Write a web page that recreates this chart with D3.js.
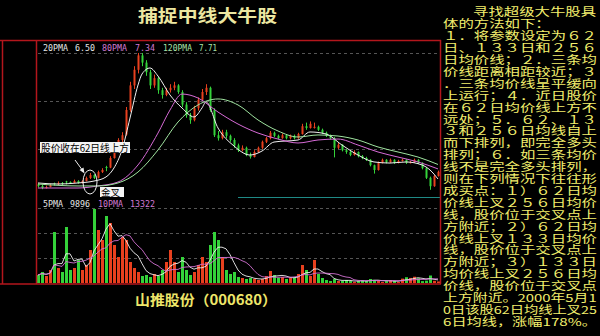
<!DOCTYPE html>
<html>
<head>
<meta charset="utf-8">
<script src="https://cdn.jsdelivr.net/npm/d3@7"></script>
<style>
  html, body { margin: 0; padding: 0; background: #000; }
  svg { display: block; }
</style>
</head>
<body>
<svg id="chart" width="600" height="336"></svg>
<script>
// ---- daily prices (yuan), one entry per trading day ----
const open = [6.05,5.92,5.75,5.83,6.15,6.08,6.17,6.3,6.25,6.17,
  6.33,6.17,6.33,6.58,6.83,6.6,7.08,7.5,7.45,8.25,
  8.9,9.75,10.2,12.25,14.3,15.6,16.8,16.2,15.4,14.3,
  14.9,13.9,13.5,13.9,14.1,14.3,13.75,12.7,11.8,11.4,
  12.4,13.1,13.75,14.1,12.25,10.15,9.9,10.4,10.1,9.75,
  9.3,8.9,9.1,8.5,8.33,8.75,9.1,9.6,9.9,10.35,
  10.1,9.9,10.15,9.9,10.1,9.9,10.25,10.9,10.75,10.75,
  10.85,10.6,10.35,10.1,9.9,9.1,9.35,8.9,8.75,8.5,
  8.75,8.4,8.25,8.1,7.65,7.25,7.85,8.1,7.9,8.1,
  7.85,8.0,8.1,7.85,7.9,8.1,7.85,7.4,6.6,5.9,
  6.75];
const high = [6.15,6.0,5.95,6.1,6.2,6.3,6.25,6.35,6.3,6.45,
  6.4,6.4,6.7,7.0,6.9,7.2,7.4,7.6,8.4,9.1,
  9.9,10.4,12.5,14.6,15.9,17.0,17.0,16.4,15.6,15.2,
  15.0,14.1,14.1,14.4,14.6,14.4,13.9,12.9,12.0,12.6,
  13.3,14.0,14.4,14.2,12.4,10.5,10.6,10.6,10.2,9.9,
  9.45,9.3,9.2,8.7,8.9,9.2,9.7,10.0,10.5,10.45,
  10.2,10.3,10.25,10.2,10.2,10.35,11.1,11.2,11.3,11.2,
  10.95,10.7,10.45,10.2,10.0,9.5,9.4,9.0,8.85,8.9,
  8.8,8.5,8.35,8.15,7.7,7.95,8.2,8.15,8.2,8.15,
  8.1,8.2,8.15,8.0,8.2,8.15,7.9,7.45,6.7,6.85,
  7.2];
const low = [5.8,5.65,5.7,5.8,5.95,6.0,6.0,6.05,6.1,6.15,
  6.1,6.12,6.3,6.5,6.5,6.55,7.0,7.15,7.4,8.2,
  8.8,9.5,10.1,12.1,14.0,15.3,15.9,15.1,14.0,14.1,
  13.6,13.2,13.4,13.7,13.9,13.6,12.5,11.6,11.1,11.3,
  12.2,13.0,13.5,12.1,10.0,9.7,9.8,9.9,9.6,9.1,
  8.75,8.8,8.4,8.2,8.3,8.7,9.0,9.5,9.8,10.0,
  9.8,9.85,9.8,9.8,9.8,9.85,10.2,10.6,10.7,10.7,
  10.5,10.25,10.0,9.8,8.3,9.0,8.8,8.6,8.4,8.45,
  8.3,8.15,8.0,7.55,6.95,7.2,7.8,7.8,7.85,7.75,
  7.8,7.95,7.75,7.8,7.85,7.75,7.3,6.5,5.6,5.85,
  6.7];
const close = [5.92,5.75,5.83,6.0,6.08,6.17,6.08,6.25,6.17,6.33,
  6.17,6.33,6.58,6.83,6.58,7.08,7.25,7.42,8.25,8.9,
  9.75,10.15,12.25,14.3,15.6,16.8,16.2,15.4,14.3,14.9,
  13.9,13.5,13.9,14.1,14.3,13.75,12.7,11.8,11.4,12.4,
  13.1,13.75,14.1,12.25,10.15,9.9,10.4,10.1,9.75,9.3,
  8.9,9.1,8.5,8.33,8.75,9.1,9.6,9.9,10.35,10.1,
  9.9,10.15,9.9,10.1,9.9,10.25,10.9,10.75,11.1,10.85,
  10.6,10.35,10.1,9.9,9.1,9.35,8.9,8.75,8.5,8.75,
  8.4,8.25,8.1,7.65,7.25,7.85,8.1,7.9,8.1,7.85,
  8.0,8.1,7.85,7.9,8.1,7.85,7.4,6.6,5.9,6.75,
  7.1];
// ---- daily volume (lots) ----
const volume = [25600,35200,22400,41600,163200,48000,35200,179200,41600,48000,
  73600,41600,57600,105600,236800,169600,137600,214400,192000,121600,
  83200,147200,137600,67200,48000,35200,22400,25600,19200,28800,
  22400,41600,67200,105600,67200,35200,83200,41600,25600,35200,
  57600,83200,67200,121600,163200,137600,83200,41600,28800,35200,
  19200,16000,12800,16000,12800,9600,12800,22400,38400,25600,
  16000,19200,12800,16000,19200,28800,57600,41600,22400,73600,
  28800,16000,9600,6400,12800,6400,6400,9600,6400,3200,
  6400,9600,6400,12800,9600,6400,3200,6400,9600,6400,
  3200,14000,18500,16200,20040,15000,6000,7500,24000,7000,
  4980];
// ---- moving-average lines: [day, price] ----
const ma20 = [[0,6.17],[5,6.08],[10,6.17],[14,6.33],[17,6.67],[19,7.42],[21,8.92],[23,11.58],
  [25,14.33],[26,15.25],[28,15.75],[30,15.08],[33,13.5],[36,12.42],[39,11.67],[41,12.42],
  [42,12.92],[45,10.75],[49,9.25],[53,8.5],[56,8.83],[59,9.58],[65,9.75],[68,10.42],
  [72,10.25],[76,9.33],[80,8.5],[84,7.92],[88,7.83],[92,7.92],[96,7.67],[98,7.25],[100,6.50]];
const ma80 = [[0,5.75],[10,5.75],[15,5.92],[20,6.25],[25,7.67],[30,10.33],[33,12.25],[36,13.58],
  [40,13.25],[45,12.08],[50,11.08],[55,10.33],[60,9.83],[65,9.5],[70,9.75],[75,9.83],
  [80,9.33],[85,8.75],[90,8.33],[95,7.92],[100,7.34]];
const ma120 = [[0,6.08],[10,5.92],[15,5.92],[20,6.17],[25,7.08],[30,8.92],[35,11.25],[40,12.67],
  [45,13.17],[50,12.67],[55,11.42],[60,10.5],[65,10.0],[70,10.17],[75,10.08],[80,9.75],
  [85,9.17],[90,8.75],[95,8.33],[100,7.71]];
const priceGrid = [9, 13, 17];
const volumeGrid = [80000, 160000, 240000];

const title = "捕捉中线大牛股";
const caption = "山推股份（000680）";
const notes = [
  "寻找超级大牛股具",
  "体的方法如下：",
  "１．将参数设定为６２",
  "日、１３３日和２５６",
  "日均价线；２．三条均",
  "价线距离相距较近；３",
  "．三条均价线呈平缓向",
  "上运行；４．近日股价",
  "在６２日均价线上方不",
  "远处；５．６２、１３",
  "３和２５６日均线自上",
  "而下排列，即完全多头",
  "排列；６．如三条均价",
  "线不是完全多头排列，",
  "则在下列情况下往往形",
  "成买点：１）６２日均",
  "价线上叉２５６日均价",
  "线，股价位于交叉点上",
  "方附近；２）６２日均",
  "价线上叉１３３日均价",
  "线，股价位于交叉点上",
  "方附近；３）１３３日",
  "均价线上叉２５６日均",
  "价线，股价位于交叉点",
  "上方附近。2000年5月1",
  "0日该股62日均线上叉25",
  "6日均线，涨幅178%。"
];

const svg = d3.select("#chart");
svg.append("rect").attr("width", 600).attr("height", 336).attr("fill", "#000");

const days = close.map((_, i) => i);
const x = d3.scaleLinear().domain([0, close.length - 1]).range([38, 438]);
const y = d3.scaleLinear().domain([5, 18.083]).range([197, 40]);
const yv = d3.scaleLinear().domain([0, 275200]).range([283, 197]);

const UP = "#e8401e", DOWN = "#34d23a";
const FRAME = "#b3161c";

// grid lines
const grid = svg.append("g").attr("stroke", "#555").attr("stroke-dasharray", "3,3").attr("stroke-width", 1);
grid.selectAll(".pg").data(priceGrid).join("line")
  .attr("x1", 38).attr("x2", 439)
  .attr("y1", d => Math.round(y(d)) + 0.5).attr("y2", d => Math.round(y(d)) + 0.5);
grid.selectAll(".vg").data(volumeGrid).join("line")
  .attr("x1", 38).attr("x2", 439)
  .attr("y1", d => Math.round(yv(d)) + 0.5).attr("y2", d => Math.round(yv(d)) + 0.5);

// panel separator
svg.append("line").attr("x1", 238).attr("x2", 440).attr("y1", 197.5).attr("y2", 197.5)
  .attr("stroke", "#1f8a86").attr("stroke-width", 1);

// candlesticks
const candles = svg.append("g");
days.forEach(i => {
  const up = close[i] >= open[i];
  const c = up ? UP : DOWN;
  const cx = Math.round(x(i));
  candles.append("line")
    .attr("x1", cx + 0.5).attr("x2", cx + 0.5)
    .attr("y1", y(high[i])).attr("y2", y(low[i]))
    .attr("stroke", c).attr("stroke-width", 1);
  const top = y(Math.max(open[i], close[i]));
  const bot = y(Math.min(open[i], close[i]));
  candles.append("rect")
    .attr("x", cx - 0.5).attr("width", 2)
    .attr("y", top).attr("height", Math.max(1, bot - top))
    .attr("fill", c);
});

// moving-average lines
const maLine = d3.line().x(d => x(d[0])).y(d => y(d[1])).curve(d3.curveMonotoneX);
const maSeries = [
  { name: "20PMA", data: ma20, color: "#f0f0f0" },
  { name: "80PMA", data: ma80, color: "#d66ad6" },
  { name: "120PMA", data: ma120, color: "#9fe39f" }
];
svg.append("g").selectAll("path").data(maSeries).join("path")
  .attr("d", d => maLine(d.data))
  .attr("fill", "none").attr("stroke", d => d.color).attr("stroke-width", 1);

// volume bars
const vbars = svg.append("g");
days.forEach(i => {
  const c = close[i] >= open[i] ? UP : DOWN;
  const cx = Math.round(x(i));
  vbars.append("rect")
    .attr("x", cx - 1).attr("width", 3)
    .attr("y", yv(volume[i])).attr("height", yv(0) - yv(volume[i]))
    .attr("fill", c);
});

// volume moving averages
function movingAvg(arr, n) {
  return arr.map((_, i) => d3.mean(arr.slice(Math.max(0, i - n + 1), i + 1)));
}
const vma5 = movingAvg(volume, 5);
const vma10 = movingAvg(volume, 10);
const vLine = d3.line().x((d, i) => x(i)).y(d => yv(d));
svg.append("path").attr("d", vLine(vma5)).attr("fill", "none").attr("stroke", "#f0f0f0").attr("stroke-width", 0.9);
svg.append("path").attr("d", vLine(vma10)).attr("fill", "none").attr("stroke", "#d070d0").attr("stroke-width", 0.9);

// legends
const fmt2 = d3.format(".2f");
const priceLegend = [
  { t: "20PMA", x: 43, w: 25, c: "#e6e6e6" },
  { t: fmt2(ma20[ma20.length - 1][1]), x: 75, w: 20, c: "#e6e6e6" },
  { t: "80PMA", x: 102, w: 25, c: "#d27ad2" },
  { t: fmt2(ma80[ma80.length - 1][1]), x: 135, w: 20, c: "#d27ad2" },
  { t: "120PMA", x: 163, w: 29, c: "#a8e4a8" },
  { t: fmt2(ma120[ma120.length - 1][1]), x: 199, w: 18, c: "#a8e4a8" }
];
const volLegend = [
  { t: "5PMA", x: 43, w: 20, c: "#e6e6e6" },
  { t: String(Math.round(vma5[vma5.length - 1])), x: 70, w: 20, c: "#e6e6e6" },
  { t: "10PMA", x: 98, w: 25, c: "#d27ad2" },
  { t: String(Math.round(vma10[vma10.length - 1])), x: 130, w: 25, c: "#d27ad2" }
];
function legend(items, baseline) {
  svg.append("g").selectAll("text").data(items).join("text")
    .attr("x", d => d.x).attr("y", baseline)
    .attr("textLength", d => d.w).attr("lengthAdjust", "spacingAndGlyphs")
    .attr("font-family", "DejaVu Sans Mono, monospace").attr("font-size", 9)
    .attr("fill", d => d.c).text(d => d.t);
}
legend(priceLegend, 50.5);
legend(volLegend, 206.5);

// annotations
const ann = svg.append("g");
ann.append("rect").attr("x", 40).attr("y", 142).attr("width", 90).attr("height", 11).attr("fill", "#f4f4f4");
ann.append("text").attr("x", 41).attr("y", 151.5).attr("textLength", 88).attr("lengthAdjust", "spacingAndGlyphs")
  .attr("font-family", "Noto Sans CJK SC").attr("font-size", 10).attr("fill", "#000").text("股价收在62日线上方");
ann.append("line").attr("x1", 75).attr("y1", 160).attr("x2", 83).attr("y2", 171)
  .attr("stroke", "#eee").attr("stroke-width", 1);
ann.append("path").attr("d", "M84.5,173.5 L79.5,170 L83.5,167.5 Z").attr("fill", "#eee");
ann.append("ellipse").attr("cx", 90).attr("cy", 182).attr("rx", 7).attr("ry", 12)
  .attr("fill", "none").attr("stroke", "#eee").attr("stroke-width", 1);
ann.append("rect").attr("x", 100).attr("y", 187).attr("width", 24).attr("height", 10).attr("fill", "#f4f4f4");
ann.append("text").attr("x", 101).attr("y", 195.5).attr("textLength", 19).attr("lengthAdjust", "spacingAndGlyphs")
  .attr("font-family", "Noto Sans CJK SC").attr("font-size", 9).attr("fill", "#000").text("金叉");

// frame
const frame = svg.append("g").attr("stroke", FRAME).attr("stroke-width", 1.5).attr("fill", "none");
frame.append("line").attr("x1", 0).attr("x2", 441).attr("y1", 40.5).attr("y2", 40.5);
frame.append("line").attr("x1", 0).attr("x2", 441).attr("y1", 284).attr("y2", 284);
frame.append("line").attr("x1", 2.5).attr("x2", 2.5).attr("y1", 40).attr("y2", 284);
frame.append("line").attr("x1", 36.5).attr("x2", 36.5).attr("y1", 40).attr("y2", 284);
frame.append("line").attr("x1", 440.5).attr("x2", 440.5).attr("y1", 40).attr("y2", 284);

// title and caption
svg.append("text").attr("x", 138).attr("y", 22).attr("textLength", 139).attr("lengthAdjust", "spacingAndGlyphs")
  .attr("font-family", "Noto Sans CJK SC").attr("font-weight", 700).attr("font-size", 17)
  .attr("fill", "#ece7a0").text(title);
svg.append("text").attr("x", 135).attr("y", 305).attr("textLength", 142).attr("lengthAdjust", "spacingAndGlyphs")
  .attr("font-family", "Noto Sans CJK SC").attr("font-weight", 700).attr("font-size", 14)
  .attr("fill", "#eee66a").text(caption);

// side notes: wide, tightly packed lines
const NOTE_SIZE = 11, NOTE_SX = 1.4, NOTE_MAX = 154;
const side = svg.append("g");
side.selectAll("text").data(notes).join("text")
  .attr("font-family", "Noto Sans CJK SC").attr("font-size", NOTE_SIZE)
  .attr("fill", "#f3ef6e").text(d => d)
  .each(function (d, k) {
    const w = this.getComputedTextLength();
    const sx = Math.min(NOTE_SX, NOTE_MAX / w);
    const left = 443 + (k === 0 ? 30 : 0);
    const base = 16.4 + 11.9 * k;
    d3.select(this).attr("transform", `translate(${left},${base}) scale(${sx},1)`);
  });
</script>
</body>
</html>
